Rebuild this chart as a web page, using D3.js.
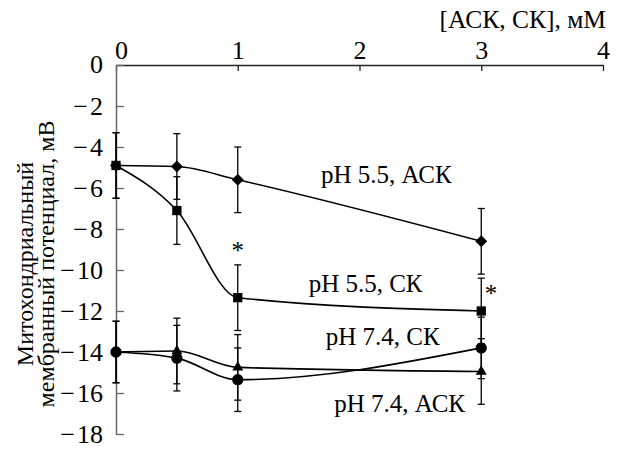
<!DOCTYPE html>
<html><head><meta charset="utf-8">
<script src="https://cdn.jsdelivr.net/npm/d3@7"></script>
<style>body{margin:0;background:#fff}svg{display:block}</style>
</head><body><svg id="c" width="621" height="449"></svg>
<script>
const xTicks = [0, 1, 2, 3, 4];
const yTicks = [0, -2, -4, -6, -8, -10, -12, -14, -16, -18];
const conc = [0, 0.5, 1, 3];
const seriesNames = ["pH 5.5, АСК", "pH 5.5, СК", "pH 7.4, СК", "pH 7.4, АСК"];
const seriesShapes = ["diamond", "square", "circle", "triangle"];
const ph55ASK = [-4.9, -4.95, -5.6, -8.6];
const ph55ASKerr = [1.6, 1.6, 1.6, 1.6];
const ph55SK = [-4.9, -7.1, -11.35, -12.0];
const ph55SKerr = [1.6, 1.65, 1.6, 1.6];
const ph74SK = [-14.0, -14.3, -15.35, -13.8];
const ph74SKerr = [1.5, 1.6, 1.55, 1.5];
const ph74ASK = [-14.0, -13.95, -14.75, -14.95];
const ph74ASKerr = [1.5, 1.6, 1.6, 1.6];
const labelPos = [[2.22, -5.76], [2.05, -11.07], [2.19, -13.66], [2.33, -16.93]];
const stars = [[1, -9.45], [3.08, -11.55]];

const values = [ph55ASK, ph55SK, ph74SK, ph74ASK];
const errs = [ph55ASKerr, ph55SKerr, ph74SKerr, ph74ASKerr];
const FONT = "Liberation Serif";

const svg = d3.select("#c");
const x = d3.scaleLinear().domain([0, 4]).range([116, 603]);
const y = d3.scaleLinear().domain([0, -18]).range([65, 434]);

const ax = svg.append("g").attr("transform", `translate(0,${y(0)})`)
  .call(d3.axisTop(x).tickValues(xTicks).tickSize(-6).tickSizeOuter(0).tickPadding(6).tickFormat(d3.format("d")));
const ay = svg.append("g").attr("transform", `translate(${x(0)},0)`)
  .call(d3.axisLeft(y).tickValues(yTicks).tickSize(-8).tickSizeOuter(0).tickPadding(13)
  .tickFormat(d => d === 0 ? "0" : "\u2212\u200A" + Math.abs(d)));
[[ax, "#222"], [ay, "#666"]].forEach(([g, col]) => {
  g.attr("font-family", FONT).attr("font-size", 26);
  g.select(".domain").attr("stroke", col).attr("stroke-width", 1.5);
  g.selectAll(".tick line").attr("stroke", col).attr("stroke-width", 1.3);
  g.selectAll("text").attr("font-family", FONT).attr("font-size", 26).attr("fill", "#000");
});
ay.selectAll(".tick text").attr("dy", "0.34em");
ax.selectAll(".tick").filter(d => d === 0).select("text").attr("dx", 5);
ay.selectAll(".tick").filter(d => d === 0).select("text").attr("dy", "0.3em");

svg.append("text").attr("x", 606).attr("y", 28).attr("text-anchor", "end")
  .attr("font-family", FONT).attr("font-size", 25.5).text("[АСК, СК], мМ");

const yt = svg.append("text").attr("transform", "translate(33,264) rotate(-90)")
  .attr("text-anchor", "middle").attr("font-family", FONT).attr("font-size", 24);
yt.append("tspan").attr("x", 0).attr("y", 0).text("Митохондриальный");
yt.append("tspan").attr("x", 0).attr("y", 21).text("мембранный потенциал, мВ");

values.forEach((vals, si) => {
  conc.forEach((c, i) => {
    const v = vals[i], e = errs[si][i];
    const g = svg.append("g").attr("stroke", "#000").attr("stroke-width", 1.3);
    g.append("line").attr("x1", x(c)).attr("x2", x(c)).attr("y1", y(v + e)).attr("y2", y(v - e));
    [v + e, v - e].forEach(t => g.append("line").attr("x1", x(c) - 3.5).attr("x2", x(c) + 3.5).attr("y1", y(t)).attr("y2", y(t)));
  });
});

const line = d3.line().x(d => x(d[0])).y(d => y(d[1])).curve(d3.curveMonotoneX);
values.forEach(vals => {
  svg.append("path").datum(conc.map((c, i) => [c, vals[i]]))
    .attr("d", line).attr("fill", "none").attr("stroke", "#000").attr("stroke-width", 1.6);
});

const sym = {diamond: [d3.symbolSquare, 72, 45], square: [d3.symbolSquare, 86, 0], circle: [d3.symbolCircle, 100, 0], triangle: [d3.symbolTriangle, 52, 0]};
values.forEach((vals, si) => {
  const [t, s, rot] = sym[seriesShapes[si]];
  conc.forEach((c, i) => {
    svg.append("path").attr("d", d3.symbol().type(t).size(s)())
      .attr("transform", `translate(${x(c)},${y(vals[i])}) rotate(${rot})`).attr("fill", "#000");
  });
});

seriesNames.forEach((n, i) => {
  svg.append("text").attr("x", x(labelPos[i][0])).attr("y", y(labelPos[i][1]))
    .attr("text-anchor", "middle").attr("font-family", FONT).attr("font-size", 25).text(n);
});
stars.forEach(s => {
  svg.append("text").attr("x", x(s[0])).attr("y", y(s[1])).attr("text-anchor", "middle")
    .attr("font-family", FONT).attr("font-size", 25).text("*");
});
</script></body></html>
